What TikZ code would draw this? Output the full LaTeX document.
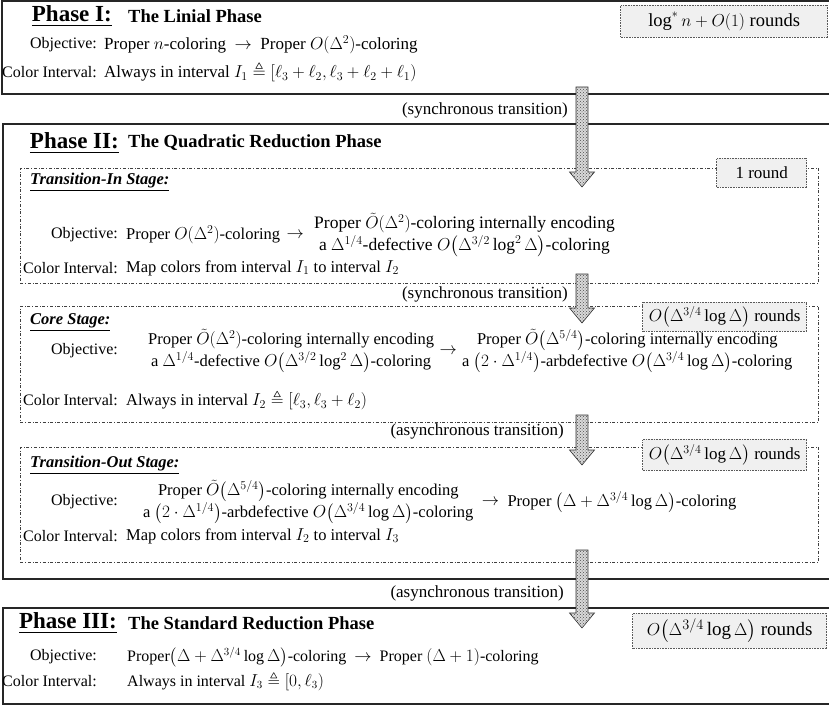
\documentclass[tikz,border=0pt]{standalone}
\usepackage{amsmath,amssymb}
\usepackage{fontspec}
\setmainfont{Liberation Serif}
\usetikzlibrary{positioning,calc,patterns}

% block arrow between two coordinates (start, tip)
\newcommand{\flowarrow}[2]{%
    \path [flow] ($(#1)+(-6,0)$) -- ($(#2)+(-6,-15)$) -- ($(#2)+(-12.5,-15)$) -- (#2)
        -- ($(#2)+(12.5,-15)$) -- ($(#2)+(6,-15)$) -- ($(#1)+(6,0)$) -- cycle;}
\newcommand{\tto}{\enspace$\rightarrow$\enspace}

\begin{document}
\begin{tikzpicture}[
    x=1pt, y=-1pt,
    body/.style={font=\fontsize{16}{21}\selectfont, inner sep=0pt},
    sbody/.style={font=\fontsize{16.5}{22}\selectfont, inner sep=0pt},
    field/.style={body, anchor=east},
    twoline/.style={sbody, align=center},
    phase/.style={
        rectangle, draw=black!85, line width=1.6pt, inner sep=0pt,
        anchor=north west, minimum width=850pt
    },
    stage/.style={
        rectangle, draw=black!75, dash dot, line width=0.8pt, inner sep=0pt,
        anchor=north west, minimum width=798pt
    },
    rounds/.style={
        rectangle, draw=black!65, densely dotted, line width=0.6pt, fill=black!6,
        font=\fontsize{17}{20}\selectfont, minimum height=29pt, anchor=north east
    },
    phasename/.style={font=\fontsize{23}{26}\selectfont\bfseries, inner sep=0pt, anchor=east},
    title/.style={font=\fontsize{18.5}{22}\selectfont\bfseries, inner sep=0pt, anchor=west},
    stagename/.style={font=\fontsize{16.5}{20}\selectfont\bfseries\itshape, inner sep=0pt, anchor=west},
    trans/.style={font=\fontsize{17}{20}\selectfont, inner sep=0pt, anchor=east},
    flow/.style={
        draw=black!80, line width=0.6pt, fill=black!15,
        postaction={pattern=crosshatch dots, pattern color=black!70}
    }
]
    \useasboundingbox (0,0) rectangle (829,706);

    % Phase I
    \node (p1) [phase, minimum height=92.5pt] at (1,0.5) {};
    \node (p1name) [phasename] at (112,16) {\underline{Phase I:}};
    \node (p1title) [title] at (128,16) {The Linial Phase};
    \node (p1obj) [field] at (97,45) {Objective:};
    \node (p1objv) [body, right=7pt of p1obj, font=\fontsize{17}{21}\selectfont] {Proper $n$-coloring\tto Proper $O(\Delta^2)$-coloring};
    \node (p1col) [field] at (97,72) {Color Interval:};
    \node (p1colv) [body, right=7pt of p1col, font=\fontsize{17}{21}\selectfont] {Always in interval $I_1 \triangleq [\ell_3+\ell_2,\ell_3+\ell_2+\ell_1)$};
    \node (p1rounds) [rounds, minimum width=207pt, minimum height=32pt, font=\fontsize{18.5}{22}\selectfont] at (828,5) {$\log^* n + O(1)$ rounds};

    \node (t1) [trans] at (568,110) {(synchronous transition)};

    % Phase II
    \node (p2) [phase, minimum height=455pt] at (2,123) {};
    \node (p2name) [phasename] at (119,143) {\underline{Phase II:}};
    \node (p2title) [title] at (128,143) {The Quadratic Reduction Phase};

    % Transition-In stage
    \node (sin) [stage, minimum height=115pt] at (20,168) {};
    \node (sinname) [stagename] at (30,182) {\underline{Transition-In Stage:}};
    \node (sinobj) [field] at (118,235) {Objective:};
    \node (sinfrom) [sbody, right=8pt of sinobj] {Proper $O(\Delta^2)$-coloring};
    \node (sinarr) [sbody, right=6pt of sinfrom] {$\rightarrow$};
    \node (sinto) [twoline, right=10pt of sinarr, font=\fontsize{17.5}{22}\selectfont] {Proper $\tilde{O}(\Delta^2)$-coloring internally encoding\\
        a $\Delta^{1/4}$-defective $O\big(\Delta^{3/2}\log^2\Delta\big)$-coloring};
    \node (sincol) [field] at (118,268) {Color Interval:};
    \node (sincolv) [sbody, right=8pt of sincol] {Map colors from interval $I_1$ to interval $I_2$};
    \node (sinrounds) [rounds, minimum width=90pt] at (807,158) {1 round};

    \node (t2) [trans] at (568,294) {(synchronous transition)};

    % Core stage
    \node (core) [stage, minimum height=116pt] at (20,306) {};
    \node (corename) [stagename] at (30,322) {\underline{Core Stage:}};
    \node (coreobj) [field] at (118,351) {Objective:};
    \node (corefrom) [twoline, right=30pt of coreobj] {Proper $\tilde{O}(\Delta^2)$-coloring internally encoding\\
        a $\Delta^{1/4}$-defective $O\big(\Delta^{3/2}\log^2\Delta\big)$-coloring};
    \node (corearr) [sbody, right=5pt of corefrom] {$\rightarrow$};
    \node (coreto) [twoline, right=5pt of corearr] {Proper $\tilde{O}\big(\Delta^{5/4}\big)$-coloring internally encoding\\
        a $\big(2\cdot\Delta^{1/4}\big)$-arbdefective $O\big(\Delta^{3/4}\log\Delta\big)$-coloring};
    \node (corecol) [field] at (118,400) {Color Interval:};
    \node (corecolv) [sbody, right=8pt of corecol] {Always in interval $I_2 \triangleq [\ell_3,\ell_3+\ell_2)$};
    \node (corerounds) [rounds, minimum width=164pt] at (807,302) {$O\big(\Delta^{3/4}\log\Delta\big)$ rounds};

    \node (t3) [trans] at (564,431) {(asynchronous transition)};

    % Transition-Out stage
    \node (sout) [stage, minimum height=115pt] at (20,447) {};
    \node (soutname) [stagename] at (30,465) {\underline{Transition-Out Stage:}};
    \node (soutobj) [field] at (118,502) {Objective:};
    \node (soutfrom) [twoline, right=25pt of soutobj] {Proper $\tilde{O}\big(\Delta^{5/4}\big)$-coloring internally encoding\\
        a $\big(2\cdot\Delta^{1/4}\big)$-arbdefective $O\big(\Delta^{3/4}\log\Delta\big)$-coloring};
    \node (soutarr) [sbody, right=8pt of soutfrom] {$\rightarrow$};
    \node (soutto) [sbody, right=8pt of soutarr] {Proper $\big(\Delta+\Delta^{3/4}\log\Delta\big)$-coloring};
    \node (soutcol) [field] at (118,536) {Color Interval:};
    \node (soutcolv) [sbody, right=8pt of soutcol] {Map colors from interval $I_2$ to interval $I_3$};
    \node (soutrounds) [rounds, minimum width=164pt, minimum height=31pt] at (807,439) {$O\big(\Delta^{3/4}\log\Delta\big)$ rounds};

    \node (t4) [trans] at (564,593) {(asynchronous transition)};

    % Phase III
    \node (p3) [phase, minimum height=96pt] at (2,607) {};
    \node (p3name) [phasename] at (117,623) {\underline{Phase III:}};
    \node (p3title) [title] at (128,623) {The Standard Reduction Phase};
    \node (p3obj) [field] at (97,657) {Objective:};
    \node (p3objv) [body, right=30pt of p3obj] {Proper$\big(\Delta+\Delta^{3/4}\log\Delta\big)$-coloring\tto Proper $(\Delta+1)$-coloring};
    \node (p3col) [field] at (97,681) {Color Interval:};
    \node (p3colv) [body, right=30pt of p3col] {Always in interval $I_3 \triangleq [0,\ell_3)$};
    \node (p3rounds) [rounds, minimum width=194pt, minimum height=35pt, font=\fontsize{19}{22}\selectfont] at (827,613) {$O\big(\Delta^{3/4}\log\Delta\big)$ rounds};

    % transitions between phases and stages
    \coordinate (a1s) at (582,87);
    \coordinate (a1t) at (582,187);
    \coordinate (a2s) at (582,274);
    \coordinate (a2t) at (582,323);
    \coordinate (a3s) at (582,415);
    \coordinate (a3t) at (582,465);
    \coordinate (a4s) at (582,550);
    \coordinate (a4t) at (582,628);

    \flowarrow{a1s}{a1t}
    \flowarrow{a2s}{a2t}
    \flowarrow{a3s}{a3t}
    \flowarrow{a4s}{a4t}
\end{tikzpicture}
\end{document}
